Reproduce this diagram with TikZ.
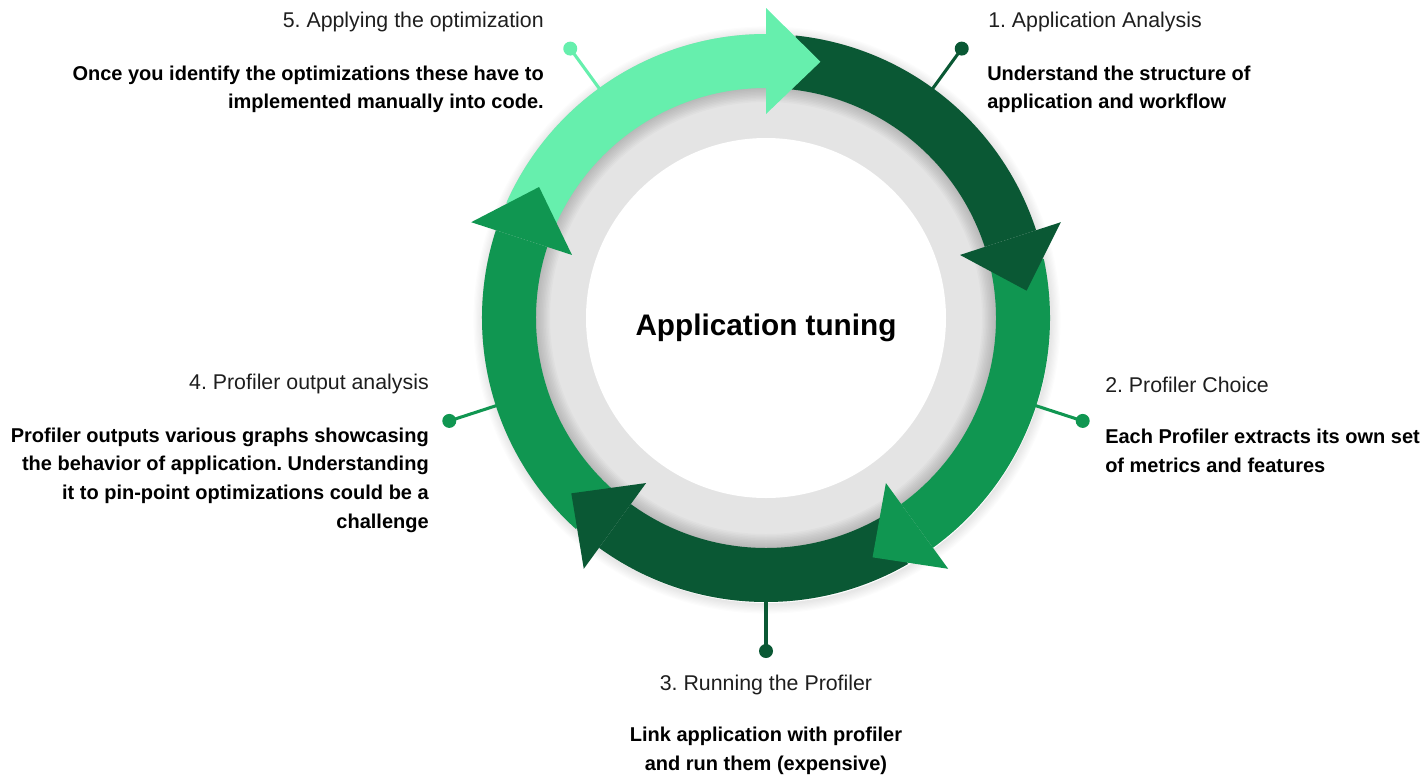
\documentclass[tikz,border=0pt]{standalone}
\usepackage{fontspec}
\setmainfont{Liberation Sans}
\frenchspacing
\definecolor{lightg}{HTML}{66EFAD}
\definecolor{midg}{HTML}{109651}
\definecolor{darkg}{HTML}{0A5834}
\definecolor{ringgray}{HTML}{E4E4E4}
\definecolor{labelink}{HTML}{1E1E1E}
\begin{document}
\begin{tikzpicture}[x=0.75pt,y=0.75pt,
  lbl/.style={inner sep=0pt, text=labelink, font=\fontsize{16}{19}\selectfont},
  desc/.style={inner sep=0pt, text=black, font=\fontsize{15}{18}\selectfont\bfseries},
  ttl/.style={inner sep=0pt, text=black, font=\fontsize{22.3}{26}\selectfont\bfseries},
  pindot/.style={circle, inner sep=0pt, minimum size=10.5pt},
  pinline/.style={line width=2.3pt}]
\useasboundingbox (-766,318) rectangle (657,-458);

% grey disc with the white centre
\fill[ringgray] (0,0) circle (284);
\fill[white] (0,0) circle (180);

% soft shadow cast by the arrow ring onto the grey band
\foreach \i in {1,...,10}
  \fill[black, opacity=0.018, even odd rule] (0,0) circle (231) circle ({231-1.5*\i});
% faint shadow outside the ring
\foreach \i in {1,...,8}
  \fill[black, opacity=0.012, even odd rule] (1,-2) circle ({284+1.2*\i}) circle (283);

% arrow bodies (each ends at its own head base)
\foreach \b/\c in {90/lightg, 18/darkg, -54/midg, -126/darkg, 162/midg}
  \fill[\c] ({\b+66}:284) arc[start angle={\b+66}, end angle=\b, radius=284]
     -- (\b:230) arc[start angle=\b, end angle={\b+66}, radius=230] -- cycle;

% arrow heads, on top of the following body
\foreach \b/\c in {90/lightg, 18/darkg, -54/midg, -126/darkg, 162/midg}
  \fill[\c] (\b:204) -- (\b:310) -- ({\b-12}:262) -- cycle;

% pins
\foreach \a/\c/\n in {54/darkg/1, -18/midg/2, -90/darkg/3, 198/midg/4, 126/lightg/5} {
  \coordinate (r\n) at (\a:283);
  \node[pindot, fill=\c] (p\n) at (\a:333) {};
  \draw[pinline, \c] (r\n) -- (p\n.center);
}

% centre title
\node[ttl, anchor=base] (title) at (0,-17.5) {Application tuning};

% step 1
\node[lbl, anchor=base west] (h1) at (222,291) {1. Application Analysis};
\node[desc, anchor=base west] (d1a) at (221,238) {Understand the structure of};
\node[desc, anchor=base west] (d1b) at (221,209.3) {application and workflow};

% step 2
\node[lbl, anchor=base west] (h2) at (339,-74.7) {2. Profiler Choice};
\node[desc, anchor=base west] (d2a) at (339,-125.3) {Each Profiler extracts its own set};
\node[desc, anchor=base west] (d2b) at (339,-154) {of metrics and features};

% step 3
\node[lbl, anchor=base] (h3) at (0,-372.7) {3. Running the Profiler};
\node[desc, anchor=base] (d3a) at (0,-423.7) {Link application with profiler};
\node[desc, anchor=base] (d3b) at (0,-452.4) {and run them (expensive)};

% step 4
\node[lbl, anchor=base east] (h4) at (-337,-71) {4. Profiler output analysis};
\node[desc, anchor=base east] (d4a) at (-337,-124) {Profiler outputs various graphs showcasing};
\node[desc, anchor=base east] (d4b) at (-337,-152.7) {the behavior of application. Understanding};
\node[desc, anchor=base east] (d4c) at (-337,-181.4) {it to pin-point optimizations could be a};
\node[desc, anchor=base east] (d4d) at (-337,-210.1) {challenge};

% step 5
\node[lbl, anchor=base east] (h5) at (-222,291) {5. Applying the optimization};
\node[desc, anchor=base east] (d5a) at (-222,238) {Once you identify the optimizations these have to};
\node[desc, anchor=base east] (d5b) at (-222,209.3) {implemented manually into code.};
\end{tikzpicture}
\end{document}
